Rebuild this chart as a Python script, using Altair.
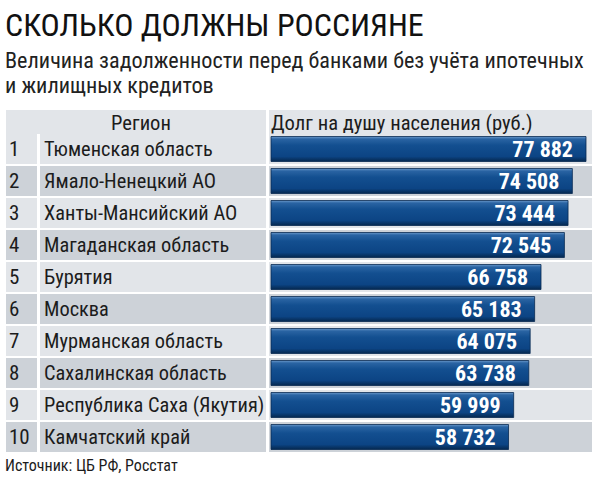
import altair as alt
import pandas as pd

# Ranking of regions by consumer debt per capita (excluding mortgages), roubles
ranks = list(range(1, 11))
regions = [
    "Тюменская область",
    "Ямало-Ненецкий АО",
    "Ханты-Мансийский АО",
    "Магаданская область",
    "Бурятия",
    "Москва",
    "Мурманская область",
    "Сахалинская область",
    "Республика Саха (Якутия)",
    "Камчатский край",
]
debt = [77882, 74508, 73444, 72545, 66758, 65183, 64075, 63738, 59999, 58732]

title = "СКОЛЬКО ДОЛЖНЫ РОССИЯНЕ"
subtitle = ["Величина задолженности перед банками без учёта ипотечных",
            "и жилищных кредитов"]
header_region = "Регион"
header_debt = "Долг на душу населения (руб.)"
source = "Источник: ЦБ РФ, Росстат"

FONT = "Liberation Sans Narrow, Roboto Condensed, DejaVu Sans Condensed, Arial Narrow, sans-serif"
LIGHT = "#e2e5e9"
DARK = "#cdd2d8"
TEXT = "#1c1c1c"

df = pd.DataFrame({
    "rank": ranks,
    "region": regions,
    "debt": debt,
    "label": [f"{v:,}".replace(",", " ") for v in debt],
    "shade": ["light" if r % 2 else "dark" for r in ranks],
})

base = alt.Chart(df)

y_rows = alt.Y(
    "region:N",
    sort=regions,
    scale=alt.Scale(range=[134, 452], paddingInner=0.0625, paddingOuter=0),
    axis=None,
)
shade = alt.Color(
    "shade:N",
    scale=alt.Scale(domain=["light", "dark"], range=[LIGHT, DARK]),
    legend=None,
)

# alternating row backgrounds for the three columns
row_bg = [
    base.mark_rect().encode(x=alt.value(x0), x2=alt.value(x1), y=y_rows, color=shade)
    for x0, x1 in [(6, 37), (40, 266), (269, 592)]
]

one = alt.Chart(pd.DataFrame({"k": [0]}))
header_bg = [
    one.mark_rect(color=LIGHT).encode(
        x=alt.value(x0), x2=alt.value(x1), y=alt.value(110), y2=alt.value(134)
    )
    for x0, x1 in [(6, 266), (269, 592)]
]

bar_fill = alt.Gradient(
    gradient="linear",
    x1=0, x2=0, y1=0, y2=1,
    stops=[
        alt.GradientStop(color="#6d9bcc", offset=0.0),
        alt.GradientStop(color="#2a64a3", offset=0.1),
        alt.GradientStop(color="#134f90", offset=0.35),
        alt.GradientStop(color="#0c4484", offset=0.8),
        alt.GradientStop(color="#05284f", offset=1.0),
    ],
)

x_debt = alt.X(
    "debt:Q",
    scale=alt.Scale(domain=[0, 80000], range=[271, 271 + 80000 * 315 / 77882]),
    axis=None,
)

bars = base.mark_bar(size=25, fill=bar_fill, stroke="#072a52", strokeWidth=0.8).encode(
    x=x_debt, y=y_rows
)

values = base.mark_text(
    align="right", baseline="middle", dx=-13, dy=1,
    font=FONT, fontSize=22, fontWeight="bold", color="white",
).encode(x=x_debt, y=y_rows, text="label:N")

nums = base.mark_text(
    align="left", baseline="middle", dy=1, font=FONT, fontSize=21, color=TEXT
).encode(x=alt.value(9), y=y_rows, text="rank:N")

names = base.mark_text(
    align="left", baseline="middle", dy=1, font=FONT, fontSize=20.4, color=TEXT
).encode(x=alt.value(44), y=y_rows, text="region:N")


def label(text, x, y, size, align="left", weight="normal", color=TEXT):
    return alt.Chart(pd.DataFrame({"t": [text]})).mark_text(
        align=align, baseline="alphabetic", font=FONT, fontSize=size,
        fontWeight=weight, color=color,
    ).encode(x=alt.value(x), y=alt.value(y), text="t:N")


texts = [
    label(title, 5, 36, 32, color="#111111"),
    label(subtitle[0], 5, 68, 22.2, color="#222222"),
    label(subtitle[1], 5, 93, 22.2, color="#222222"),
    label(header_region, 141, 130, 20.6, align="center"),
    label(header_debt, 271, 130, 20.6),
    label(source, 5, 471, 16),
]

chart = alt.layer(
    *header_bg, *row_bg, bars, values, nums, names, *texts
).properties(
    width=600, height=480, padding=0, autosize=alt.AutoSizeParams(type="none"),
    background="white",
).configure_view(stroke=None)

chart.save("out.html", embed_options={"renderer": "svg", "actions": False})
